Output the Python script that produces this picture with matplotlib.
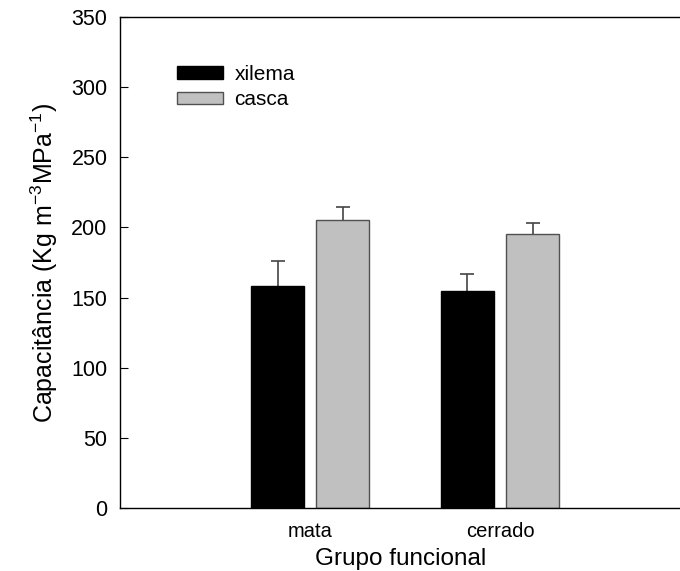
import matplotlib
matplotlib.use("Agg")
import matplotlib.pyplot as plt
import numpy as np

plt.rcParams['font.family'] = ['Liberation Sans', 'DejaVu Sans']
plt.rcParams['mathtext.default'] = 'regular'

groups = ['mata', 'cerrado']
series = ['xilema', 'casca']
xilema = [158.4, 154.4]
xilema_err = [18.0, 12.6]
casca = [205.3, 195.5]
casca_err = [9.5, 7.6]

fig = plt.figure(figsize=(6.8, 5.71), dpi=100)
ax = fig.add_axes([120/680, 63/571, 1.0 - 120/680 + 0.003, (508-17)/571])

x = np.arange(len(groups))
w = 0.28
off = 0.172
ecol = '#444444'

def draw(pos, vals, errs, fc, ec, label):
    vals = np.asarray(vals)
    errs = np.asarray(errs)
    ax.bar(pos, vals, w, color=fc, edgecolor=ec, linewidth=1, label=label, zorder=2)
    ax.vlines(pos, vals, vals + errs, color=ecol, linewidth=1.2, zorder=1)
    ax.plot(pos, vals + errs, ls='none', marker='_', ms=9.5, mew=1.2, color=ecol, zorder=1)

draw(x - off, xilema, xilema_err, 'black', 'black', series[0])
draw(x + off, casca, casca_err, '#c0c0c0', '#505050', series[1])

ax.set_xlim(-1.003, 1.96)
ax.set_ylim(0, 350)
ax.set_yticks(np.arange(0, 351, 50))
ax.set_xticks(x)
ax.set_xticklabels(groups, fontsize=14.5)
ax.tick_params(axis='x', length=0, pad=10)
ax.tick_params(axis='y', direction='in', length=6, labelsize=15.5, pad=9)
for s in ax.spines.values():
    s.set_linewidth(1.0)
ax.set_xlabel('Grupo funcional', fontsize=17.5, labelpad=5)
ax.set_ylabel('Capacitância (Kg m$^{-3}$MPa$^{-1}$)', fontsize=18, labelpad=8)

leg = ax.legend(loc='upper left', bbox_to_anchor=(0.102, 0.902), frameon=False,
                fontsize=15, handlelength=2.2, handleheight=0.58, handletextpad=0.55,
                labelspacing=0.3, borderpad=0, borderaxespad=0)

fig.savefig('out.png', dpi=100)
